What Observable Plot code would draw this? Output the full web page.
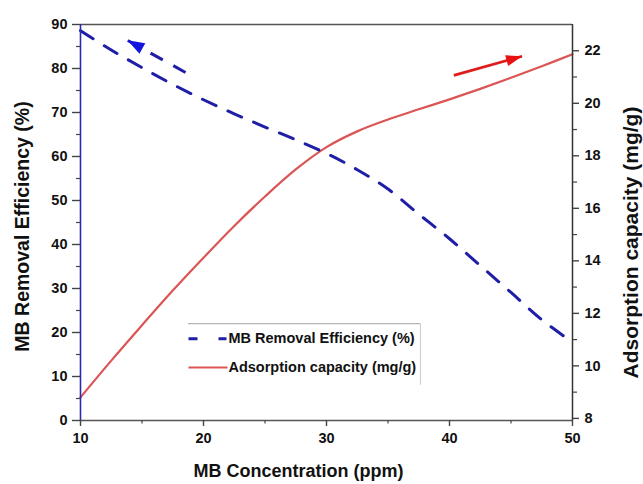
<!DOCTYPE html>
<html>
<head>
<meta charset="utf-8">
<script src="https://cdn.jsdelivr.net/npm/d3@7"></script>
<script src="https://cdn.jsdelivr.net/npm/@observablehq/plot@0.6"></script>
<style>
  html, body { margin: 0; padding: 0; background: #fff; }
  #chart svg { display: block; }
</style>
</head>
<body>
<div id="chart"></div>
<script>
// ---- data ----
const concentration = [10, 12.5, 15, 17.5, 20, 22.5, 25, 27.5, 30, 32.5, 35, 37.5, 40, 42.5, 45, 47.5, 50];
const efficiency = [88.6, 84.2, 80.2, 76.4, 72.9, 69.7, 66.7, 63.8, 60.7, 57.0, 52.6, 46.9, 41.3, 35.2, 29.1, 22.9, 17.8];
const capacity = [8.8, 10.2, 11.55, 12.87, 14.12, 15.33, 16.45, 17.48, 18.33, 18.93, 19.38, 19.77, 20.15, 20.55, 20.97, 21.41, 21.87];

const xTicks = [10, 20, 30, 40, 50];
const xMinor = [15, 25, 35, 45];
const effTicks = [0, 10, 20, 30, 40, 50, 60, 70, 80, 90];
const effMinor = [5, 15, 25, 35, 45, 55, 65, 75, 85];
const capTicks = [8, 10, 12, 14, 16, 18, 20, 22];
const capMinor = [9, 11, 13, 15, 17, 19, 21];
const capDomain = [7.92, 23];
const effDomain = [0, 90];
const xDomain = [10, 50];

const seriesNames = ["MB Removal Efficiency (%)", "Adsorption capacity (mg/g)"];
const xTitle = "MB Concentration (ppm)";
const yTitle = "MB Removal Efficiency (%)";
const y2Title = "Adsorption capacity (mg/g)";

// direction arrows (data space): blue on left scale, red on capacity scale
const blueArrow = {x1: 18.54, y1: 79.1, x2: 13.82, y2: 86.4};
const redArrowCap = {x1: 40.35, y1: 21.06, x2: 45.9, y2: 21.79};

// legend anchors (data space)
const legendBox = {x1: 18.78, x2: 37.64, yTop: 22.0, yBottom: 8.0};
const legendRows = [
  {name: seriesNames[0], y: 18.6, x1: 18.78, x2: 21.87, tx: 22.03},
  {name: seriesNames[1], y: 12.05, x1: 18.78, x2: 21.95, tx: 22.03}
];

// ---- helpers ----
const W = 643, H = 484, mL = 80, mR = 71, mT = 24, mB = 64;
const toLeft = c => (c - capDomain[0]) / (capDomain[1] - capDomain[0]) * (effDomain[1] - effDomain[0]) + effDomain[0];
const fromLeft = v => (v - effDomain[0]) / (effDomain[1] - effDomain[0]) * (capDomain[1] - capDomain[0]) + capDomain[0];

const effData = concentration.map((c, i) => ({c, v: efficiency[i]}));
const capData = concentration.map((c, i) => ({c, v: toLeft(capacity[i])}));

const redArrow = {x1: redArrowCap.x1, y1: toLeft(redArrowCap.y1), x2: redArrowCap.x2, y2: toLeft(redArrowCap.y2)};
const pxX = (W - mL - mR) / (xDomain[1] - xDomain[0]);
const pxY = (H - mT - mB) / (effDomain[1] - effDomain[0]);
const angleOf = a => Math.atan2((a.x2 - a.x1) * pxX, (a.y2 - a.y1) * pxY) * 180 / Math.PI;

const headSymbol = (len, half) => ({
  draw(context) {
    context.moveTo(0, 0);
    context.lineTo(-half, len);
    context.lineTo(half, len);
    context.closePath();
  }
});

const BLUE = "#1e1ea6";
const RED = "#dc5555";
const AXIS = "#444";
const font = "'Liberation Sans', Arial, Helvetica, sans-serif";

const chart = Plot.plot({
  width: W,
  height: H,
  marginLeft: mL,
  marginRight: mR,
  marginTop: mT,
  marginBottom: mB,
  x: {domain: xDomain},
  y: {domain: effDomain},
  style: {fontFamily: font, fontWeight: "bold", background: "#fff", color: "#111"},
  marks: [
    // legend box
    Plot.ruleY([legendBox.yTop], {x1: legendBox.x1, x2: legendBox.x2, stroke: "#b5b5b5", strokeWidth: 1.2}),
    Plot.ruleX([legendBox.x2], {y1: legendBox.yBottom, y2: legendBox.yTop, stroke: "#d0d0d0", strokeWidth: 1.2}),

    // series
    Plot.line(capData, {x: "c", y: "v", curve: "catmull-rom", stroke: RED, strokeWidth: 2.2}),
    Plot.line(effData, {x: "c", y: "v", curve: "catmull-rom", stroke: BLUE, strokeWidth: 3, strokeDasharray: "15,13"}),

    // arrows
    Plot.link([blueArrow], {x1: "x1", y1: "y1", x2: "x2", y2: "y2", stroke: BLUE, strokeWidth: 3, strokeDasharray: "14,12"}),
    Plot.dot([blueArrow], {x: "x2", y: "y2", symbol: headSymbol(17, 6), rotate: angleOf(blueArrow), fill: "#1414e0", stroke: "none"}),
    Plot.link([redArrow], {x1: "x1", y1: "y1", x2: "x2", y2: "y2", stroke: "#e01c1c", strokeWidth: 2.8}),
    Plot.dot([redArrow], {x: "x2", y: "y2", symbol: headSymbol(16, 5.5), rotate: angleOf(redArrow), fill: "#e81010", stroke: "none"}),

    // legend content
    Plot.link([legendRows[0]], {x1: "x1", x2: "x2", y1: "y", y2: "y", stroke: BLUE, strokeWidth: 3, strokeDasharray: "9,21"}),
    Plot.link([legendRows[1]], {x1: "x1", x2: "x2", y1: "y", y2: "y", stroke: RED, strokeWidth: 2.2}),
    Plot.text(legendRows, {x: "tx", y: "y", text: "name", textAnchor: "start", fontSize: 14.5, fontWeight: "bold", fill: "#111"}),

    // frame lines
    Plot.ruleY([effDomain[1]], {stroke: "#555", strokeWidth: 1.6}),
    Plot.ruleY([effDomain[0]], {stroke: "#555", strokeWidth: 1.6}),
    Plot.ruleX([xDomain[1]], {stroke: "#333", strokeWidth: 1.5}),
    Plot.ruleX([xDomain[0]], {stroke: "#2a2ab0", strokeWidth: 1.6}),

    // bottom axis
    Plot.axisX(xTicks, {tickSize: 6, tickPadding: 6, fontSize: 14.5, fontWeight: "bold", stroke: AXIS, strokeWidth: 1.4, fill: "#111", label: null}),
    Plot.axisX(xMinor, {tickSize: 3.5, stroke: AXIS, strokeWidth: 1.2, tickFormat: () => "", label: null}),

    // left axis
    Plot.axisY(effTicks, {anchor: "left", tickSize: 8, tickPadding: 5, fontSize: 14.5, fontWeight: "bold", stroke: AXIS, strokeWidth: 1.4, fill: "#111", label: null}),
    Plot.axisY(effMinor, {anchor: "left", tickSize: 4, stroke: AXIS, strokeWidth: 1.2, tickFormat: () => "", label: null}),

    // right axis (capacity)
    Plot.axisY(capTicks.map(toLeft), {anchor: "right", tickSize: 6, tickPadding: 6, fontSize: 14.5, fontWeight: "bold", stroke: AXIS, strokeWidth: 1.4, fill: "#111", tickFormat: d => String(Math.round(fromLeft(d))), label: null}),
    Plot.axisY(capMinor.map(toLeft), {anchor: "right", tickSize: 4, stroke: AXIS, strokeWidth: 1.2, tickFormat: () => "", label: null}),

    // axis titles
    Plot.text([xTitle], {frameAnchor: "bottom", dx: -28, dy: 51, text: d => d, fontSize: 18, fontWeight: "bold", fill: "#111", textAnchor: "middle", lineAnchor: "middle"}),
    Plot.text([yTitle], {frameAnchor: "left", dx: -58, dy: 4, rotate: -90, text: d => d, fontSize: 19.5, fontWeight: "bold", fill: "#111", textAnchor: "middle", lineAnchor: "middle"}),
    Plot.text([y2Title], {frameAnchor: "right", dx: 59, dy: 20, rotate: -90, text: d => d, fontSize: 21, fontWeight: "bold", fill: "#111", textAnchor: "middle", lineAnchor: "middle"})
  ]
});

document.getElementById("chart").appendChild(chart);
</script>
</body>
</html>
